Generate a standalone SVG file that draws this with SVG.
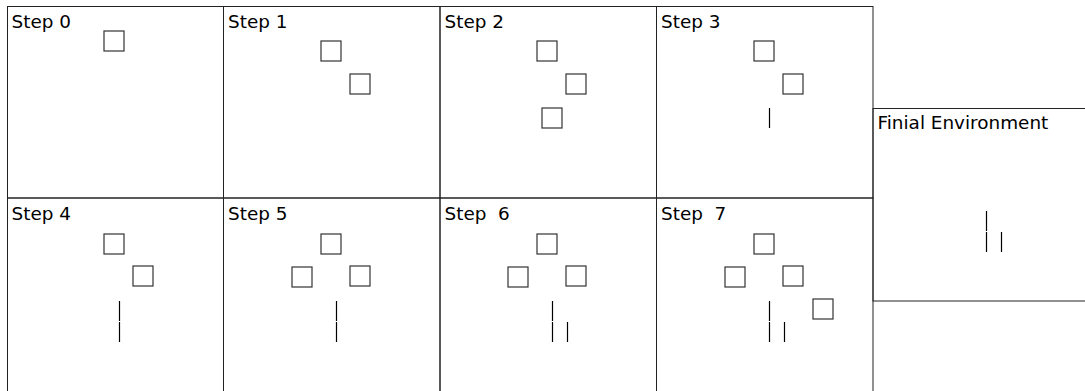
<svg xmlns="http://www.w3.org/2000/svg" width="1085" height="391" viewBox="0 0 1085 391">
<style>
.panel{fill:none;stroke:#222;stroke-width:1}
.box{fill:#fff;stroke:#333;stroke-width:1.2}
.bar{stroke:#000;stroke-width:1.2}
.lbl{font-family:"DejaVu Sans",sans-serif;font-size:18.4px;fill:#000}
</style>
<rect width="1085" height="391" fill="#fff"/>
<g id="step0">
<rect class="panel" x="7.5" y="6.5" width="216" height="191.5"/>
<text class="lbl" x="11.5" y="27.5">Step 0</text>
<rect class="box" x="104" y="31" width="20" height="20"/>
</g>
<g id="step1">
<rect class="panel" x="223.5" y="6.5" width="216.5" height="191.5"/>
<text class="lbl" x="228" y="27.5">Step 1</text>
<rect class="box" x="321" y="41" width="20" height="20"/>
<rect class="box" x="350" y="74" width="20" height="20"/>
</g>
<g id="step2">
<rect class="panel" x="440" y="6.5" width="216.5" height="191.5"/>
<text class="lbl" x="444.5" y="27.5">Step 2</text>
<rect class="box" x="537" y="41" width="20" height="20"/>
<rect class="box" x="566" y="74" width="20" height="20"/>
<rect class="box" x="542" y="108" width="20" height="20"/>
</g>
<g id="step3">
<rect class="panel" x="656.5" y="6.5" width="216.5" height="191.5"/>
<text class="lbl" x="661" y="27.5">Step 3</text>
<rect class="box" x="754" y="41" width="20" height="20"/>
<rect class="box" x="783" y="74" width="20" height="20"/>
<line class="bar" x1="769.5" y1="108" x2="769.5" y2="128"/>
</g>
<g id="step4">
<rect class="panel" x="7.5" y="198" width="216" height="200"/>
<text class="lbl" x="11.5" y="219.5">Step 4</text>
<rect class="box" x="104" y="234" width="20" height="20"/>
<rect class="box" x="133" y="266" width="20" height="20"/>
<line class="bar" x1="119.5" y1="301" x2="119.5" y2="321"/>
<line class="bar" x1="119.5" y1="322" x2="119.5" y2="342"/>
</g>
<g id="step5">
<rect class="panel" x="223.5" y="198" width="216.5" height="200"/>
<text class="lbl" x="228" y="219.5">Step 5</text>
<rect class="box" x="321" y="234" width="20" height="20"/>
<rect class="box" x="292" y="267" width="20" height="20"/>
<rect class="box" x="350" y="266" width="20" height="20"/>
<line class="bar" x1="336.5" y1="301" x2="336.5" y2="321"/>
<line class="bar" x1="336.5" y1="322" x2="336.5" y2="342"/>
</g>
<g id="step6">
<rect class="panel" x="440" y="198" width="216.5" height="200"/>
<text class="lbl" x="444.5" y="219.5" xml:space="preserve">Step  6</text>
<rect class="box" x="537" y="234" width="20" height="20"/>
<rect class="box" x="508" y="267" width="20" height="20"/>
<rect class="box" x="566" y="266" width="20" height="20"/>
<line class="bar" x1="552.5" y1="301" x2="552.5" y2="321"/>
<line class="bar" x1="552.5" y1="322" x2="552.5" y2="342"/>
<line class="bar" x1="567.5" y1="322" x2="567.5" y2="342"/>
</g>
<g id="step7">
<rect class="panel" x="656.5" y="198" width="216.5" height="200"/>
<text class="lbl" x="661" y="219.5" xml:space="preserve">Step  7</text>
<rect class="box" x="754" y="234" width="20" height="20"/>
<rect class="box" x="725" y="267" width="20" height="20"/>
<rect class="box" x="783" y="266" width="20" height="20"/>
<rect class="box" x="813" y="299" width="20" height="20"/>
<line class="bar" x1="769.5" y1="301" x2="769.5" y2="321"/>
<line class="bar" x1="769.5" y1="322" x2="769.5" y2="342"/>
<line class="bar" x1="784.5" y1="322" x2="784.5" y2="342"/>
</g>
<g id="final">
<rect class="panel" x="873" y="108.5" width="220" height="192.5"/>
<text class="lbl" x="877.5" y="128.5">Finial Environment</text>
<line class="bar" x1="986.5" y1="211" x2="986.5" y2="231"/>
<line class="bar" x1="986.5" y1="232" x2="986.5" y2="252"/>
<line class="bar" x1="1001.5" y1="232" x2="1001.5" y2="252"/>
</g>
<g id="connectors"></g>
</svg>
